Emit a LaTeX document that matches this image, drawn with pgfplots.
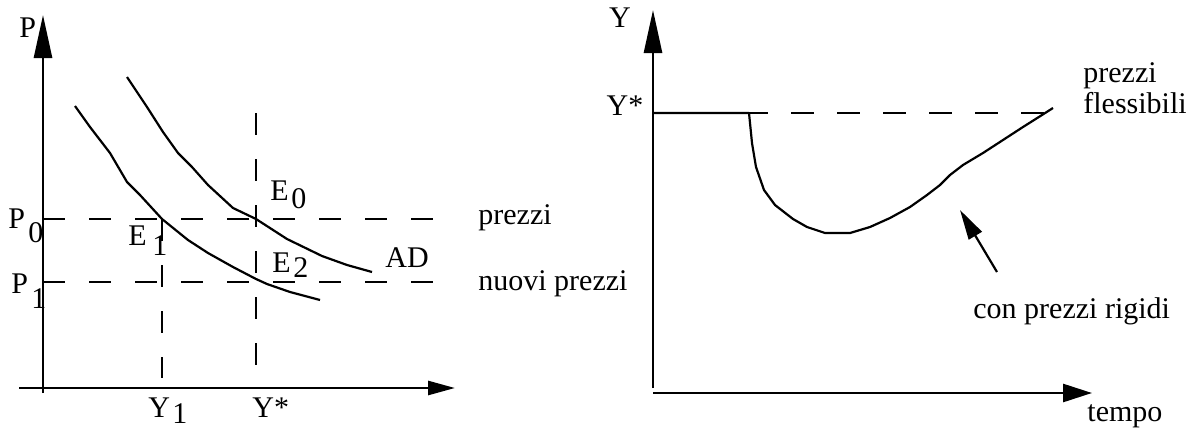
\documentclass[border=0pt]{standalone}
\usepackage{fontspec}
\setmainfont{Liberation Serif}
\usepackage{pgfplots}
\pgfplotsset{compat=1.18}
\usetikzlibrary{arrows.meta}

\newcommand{\lbl}{\fontsize{15}{18}\selectfont}

\begin{document}
\begin{tikzpicture}[
    lab/.style={anchor=base west, inner sep=0pt, font=\lbl},
    labc/.style={anchor=base, inner sep=0pt, font=\lbl},
]
\pgfplotsset{
    sketch/.style={
        scale only axis, width=300pt, height=214pt,
        ymin=0, ymax=428, y dir=reverse,
        hide axis, clip=false,
    },
    ax/.style={black, line width=1.35pt},
    crv/.style={black, line width=1.1pt, line join=round},
}

% left panel: AD shift
\begin{axis}[sketch, xmin=0, xmax=600, at={(0pt,0pt)}]
\addplot[draw=none] coordinates {(0,0) (600,428)};
% axes
\addplot[ax, -{Triangle[length=21.5pt, width=9pt]}] coordinates {(43,393) (43,15)};
\addplot[ax, -{Triangle[length=13.5pt, width=7pt]}] coordinates {(19,388) (455,388)};
% price levels and outputs
\addplot[ax, dash pattern=on 11pt off 12pt] coordinates {(43,219) (438,219)};
\addplot[ax, dash pattern=on 11pt off 12pt] coordinates {(43,282) (438,282)};
\addplot[ax, dash pattern=on 11pt off 12pt] coordinates {(256,113) (256,368)};
\addplot[ax, dash pattern=on 11pt off 12pt] coordinates {(162,219) (162,378)};
% AD curves
\addplot[crv] coordinates {
    (127,77) (147,107) (163,132) (178,153) (192,167) (208,185)
    (233,208) (256,219) (287,239) (322,256) (347,265) (372,272)};
\addplot[crv] coordinates {
    (75,106) (90,127) (110,153) (127,182) (140,195) (162,219)
    (188,240) (208,253) (233,267) (256,279) (267,284) (290,292) (320,300)};
% labels
\node[lab] at (19,37) {P};
\node[lab] at (8,228) {P};   \node[lab] at (28,242) {0};
\node[lab] at (11,293) {P};  \node[lab] at (31,308) {1};
\node[lab] at (270,200) {E}; \node[lab] at (291,208) {0};
\node[lab] at (128,245) {E}; \node[lab] at (152,255) {1};
\node[lab] at (272,272) {E}; \node[lab] at (293,277) {2};
\node[lab] at (385,267) {AD};
\node[lab] at (148,417) {Y}; \node[lab] at (172,423) {1};
\node[lab] at (252,417) {Y*};
\node[lab] at (478,224) {prezzi};
\node[lab] at (478,290) {nuovi prezzi};
\end{axis}

% right panel: output over time
\begin{axis}[sketch, xmin=600, xmax=1200, at={(300pt,0pt)}]
\addplot[draw=none] coordinates {(600,0) (1200,428)};
\addplot[ax, -{Triangle[length=21.5pt, width=9pt]}] coordinates {(653,388) (653,10)};
\addplot[ax, -{Triangle[length=14.5pt, width=9pt]}] coordinates {(653,393) (1092,393)};
\addplot[ax, dash pattern=on 11.5pt off 11.5pt] coordinates {(653,113) (1047,113)};
\addplot[crv] coordinates {
    (653,113) (749,113) (752,143) (756,167) (764,190) (775,205) (793,219)
    (807,227) (825,233) (850,233) (870,227) (890,218) (910,207) (927,195)
    (940,185) (950,175) (963,165) (983,153) (1003,140) (1023,127)
    (1042,115) (1053,108)};
\addplot[crv, -{Triangle[length=15pt, width=7.5pt]}] coordinates {(997,272) (960,210)};
\node[labc] at (620,27) {Y};
\node[labc] at (625,115) {Y*};
\node[lab] at (1083,82) {prezzi};
\node[lab] at (1083,113) {flessibili};
\node[lab] at (973,318) {con prezzi rigidi};
\node[lab] at (1087,421) {tempo};
\end{axis}
\end{tikzpicture}
\end{document}
